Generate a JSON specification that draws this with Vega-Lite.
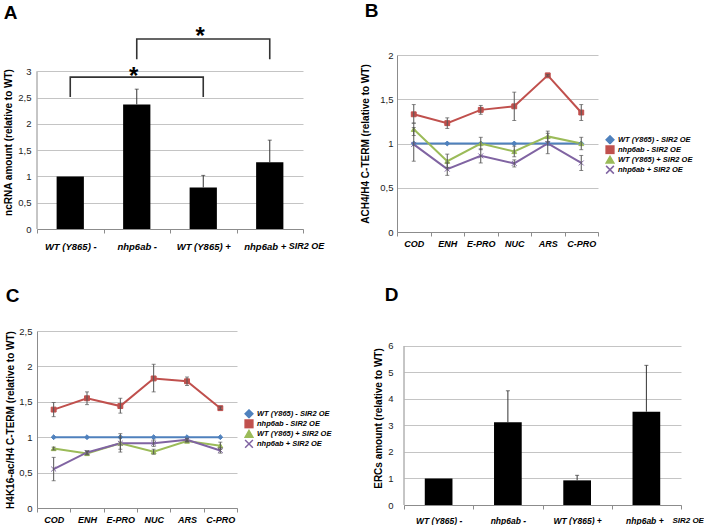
{
  "$schema": "https://vega.github.io/schema/vega-lite/v6.json",
  "background": "white",
  "padding": {"left": 3, "top": 2, "right": 0, "bottom": 0},
  "config": {
    "font": "Liberation Sans",
    "view": {"stroke": null},
    "title": {"font": "Liberation Sans", "fontSize": 19, "fontWeight": "bold", "anchor": "start", "frame": "bounds", "color": "black"},
    "axisX": {"domainColor": "#8c8c8c", "tickColor": "#8c8c8c", "tickSize": 4, "labelAngle": 0, "labelFont": "Liberation Sans", "labelFontWeight": "bold", "labelFontStyle": "italic", "labelColor": "black", "labelFontSize": 10, "labelPadding": 5, "grid": false, "labelOverlap": false},
    "axisY": {"domainColor": "#8c8c8c", "ticks": false, "gridColor": "#c4c4c4", "labelFont": "Liberation Sans", "labelFontSize": 9.5, "labelColor": "#222", "titleFont": "Liberation Sans", "titleFontWeight": "bold", "titleFontSize": 10, "titleColor": "black", "labelPadding": 6, "titlePadding": 4, "labelOverlap": false}
  },
  "datasets": {
    "a": [
      {"g": "WT (Y865) -", "v": 1.0, "hi": 1.0},
      {"g": "nhp6ab -", "v": 2.37, "hi": 2.66},
      {"g": "WT (Y865) +", "v": 0.79, "hi": 1.02},
      {"g": "nhp6ab +", "v": 1.27, "hi": 1.69}
    ],
    "aaxis": [{"g": "WT (Y865) -", "y0": 0, "y1": 3}],
    "abr": [
      {"b": 1, "g": "WT (Y865) -", "y": 2.51, "o": 1},
      {"b": 1, "g": "WT (Y865) -", "y": 2.89, "o": 2},
      {"b": 1, "g": "WT (Y865) +", "y": 2.89, "o": 3},
      {"b": 1, "g": "WT (Y865) +", "y": 2.51, "o": 4},
      {"b": 2, "g": "nhp6ab -", "y": 3.23, "o": 1},
      {"b": 2, "g": "nhp6ab -", "y": 3.615, "o": 2},
      {"b": 2, "g": "nhp6ab +", "y": 3.615, "o": 3},
      {"b": 2, "g": "nhp6ab +", "y": 3.23, "o": 4}
    ],
    "astar": [
      {"g": "nhp6ab -", "y": 2.89, "t": "*"},
      {"g": "WT (Y865) +", "y": 3.65, "t": "*"}
    ],
    "anote": [{"g": "nhp6ab +", "y": 0, "t": "SIR2 OE"}],
    "b": [
      {"s": "WT (Y865) - SIR2 OE", "r": "COD", "v": 1, "lo": 1, "hi": 1},
      {"s": "WT (Y865) - SIR2 OE", "r": "ENH", "v": 1, "lo": 1, "hi": 1},
      {"s": "WT (Y865) - SIR2 OE", "r": "E-PRO", "v": 1, "lo": 1, "hi": 1},
      {"s": "WT (Y865) - SIR2 OE", "r": "NUC", "v": 1, "lo": 1, "hi": 1},
      {"s": "WT (Y865) - SIR2 OE", "r": "ARS", "v": 1, "lo": 1, "hi": 1},
      {"s": "WT (Y865) - SIR2 OE", "r": "C-PRO", "v": 1, "lo": 1, "hi": 1},
      {"s": "nhp6ab - SIR2 OE", "r": "COD", "v": 1.33, "lo": 1.23, "hi": 1.44},
      {"s": "nhp6ab - SIR2 OE", "r": "ENH", "v": 1.23, "lo": 1.17, "hi": 1.29},
      {"s": "nhp6ab - SIR2 OE", "r": "E-PRO", "v": 1.38, "lo": 1.33, "hi": 1.43},
      {"s": "nhp6ab - SIR2 OE", "r": "NUC", "v": 1.42, "lo": 1.26, "hi": 1.58},
      {"s": "nhp6ab - SIR2 OE", "r": "ARS", "v": 1.77, "lo": 1.76, "hi": 1.78},
      {"s": "nhp6ab - SIR2 OE", "r": "C-PRO", "v": 1.35, "lo": 1.26, "hi": 1.44},
      {"s": "WT (Y865) + SIR2 OE", "r": "COD", "v": 1.16, "lo": 1.09, "hi": 1.23},
      {"s": "WT (Y865) + SIR2 OE", "r": "ENH", "v": 0.8, "lo": 0.73, "hi": 0.88},
      {"s": "WT (Y865) + SIR2 OE", "r": "E-PRO", "v": 1.0, "lo": 0.93, "hi": 1.07},
      {"s": "WT (Y865) + SIR2 OE", "r": "NUC", "v": 0.91, "lo": 0.85, "hi": 0.97},
      {"s": "WT (Y865) + SIR2 OE", "r": "ARS", "v": 1.08, "lo": 1.02, "hi": 1.14},
      {"s": "WT (Y865) + SIR2 OE", "r": "C-PRO", "v": 1.0, "lo": 0.93, "hi": 1.07},
      {"s": "nhp6ab + SIR2 OE", "r": "COD", "v": 0.99, "lo": 0.8, "hi": 1.18},
      {"s": "nhp6ab + SIR2 OE", "r": "ENH", "v": 0.71, "lo": 0.64, "hi": 0.78},
      {"s": "nhp6ab + SIR2 OE", "r": "E-PRO", "v": 0.86, "lo": 0.78, "hi": 0.94},
      {"s": "nhp6ab + SIR2 OE", "r": "NUC", "v": 0.775, "lo": 0.735, "hi": 0.815},
      {"s": "nhp6ab + SIR2 OE", "r": "ARS", "v": 1.0, "lo": 0.885, "hi": 1.115},
      {"s": "nhp6ab + SIR2 OE", "r": "C-PRO", "v": 0.78, "lo": 0.695, "hi": 0.865}
    ],
    "c": [
      {"s": "WT (Y865) - SIR2 OE", "r": "COD", "v": 1, "lo": 1, "hi": 1},
      {"s": "WT (Y865) - SIR2 OE", "r": "ENH", "v": 1, "lo": 1, "hi": 1},
      {"s": "WT (Y865) - SIR2 OE", "r": "E-PRO", "v": 1, "lo": 1, "hi": 1},
      {"s": "WT (Y865) - SIR2 OE", "r": "NUC", "v": 1, "lo": 1, "hi": 1},
      {"s": "WT (Y865) - SIR2 OE", "r": "ARS", "v": 1, "lo": 1, "hi": 1},
      {"s": "WT (Y865) - SIR2 OE", "r": "C-PRO", "v": 1, "lo": 1, "hi": 1},
      {"s": "nhp6ab - SIR2 OE", "r": "COD", "v": 1.39, "lo": 1.29, "hi": 1.49},
      {"s": "nhp6ab - SIR2 OE", "r": "ENH", "v": 1.55, "lo": 1.46, "hi": 1.64},
      {"s": "nhp6ab - SIR2 OE", "r": "E-PRO", "v": 1.44, "lo": 1.34, "hi": 1.55},
      {"s": "nhp6ab - SIR2 OE", "r": "NUC", "v": 1.83, "lo": 1.64, "hi": 2.03},
      {"s": "nhp6ab - SIR2 OE", "r": "ARS", "v": 1.79, "lo": 1.73, "hi": 1.85},
      {"s": "nhp6ab - SIR2 OE", "r": "C-PRO", "v": 1.41, "lo": 1.39, "hi": 1.43},
      {"s": "WT (Y865) + SIR2 OE", "r": "COD", "v": 0.84, "lo": 0.82, "hi": 0.86},
      {"s": "WT (Y865) + SIR2 OE", "r": "ENH", "v": 0.77, "lo": 0.75, "hi": 0.8},
      {"s": "WT (Y865) + SIR2 OE", "r": "E-PRO", "v": 0.915, "lo": 0.83, "hi": 1.0},
      {"s": "WT (Y865) + SIR2 OE", "r": "NUC", "v": 0.795, "lo": 0.76, "hi": 0.83},
      {"s": "WT (Y865) + SIR2 OE", "r": "ARS", "v": 0.945, "lo": 0.93, "hi": 0.96},
      {"s": "WT (Y865) + SIR2 OE", "r": "C-PRO", "v": 0.88, "lo": 0.83, "hi": 0.93},
      {"s": "nhp6ab + SIR2 OE", "r": "COD", "v": 0.55, "lo": 0.385, "hi": 0.715},
      {"s": "nhp6ab + SIR2 OE", "r": "ENH", "v": 0.785, "lo": 0.76, "hi": 0.81},
      {"s": "nhp6ab + SIR2 OE", "r": "E-PRO", "v": 0.915, "lo": 0.79, "hi": 1.05},
      {"s": "nhp6ab + SIR2 OE", "r": "NUC", "v": 0.915, "lo": 0.87, "hi": 0.96},
      {"s": "nhp6ab + SIR2 OE", "r": "ARS", "v": 0.963, "lo": 0.94, "hi": 0.985},
      {"s": "nhp6ab + SIR2 OE", "r": "C-PRO", "v": 0.813, "lo": 0.775, "hi": 0.85}
    ],
    "d": [
      {"g": "WT (Y865) -", "v": 1.0, "hi": 1.0},
      {"g": "nhp6ab -", "v": 3.12, "hi": 4.31},
      {"g": "WT (Y865) +", "v": 0.93, "hi": 1.12},
      {"g": "nhp6ab +", "v": 3.52, "hi": 5.27}
    ],
    "daxis": [{"g": "WT (Y865) -", "y0": 0, "y1": 6}],
    "dnote": [{"g": "nhp6ab +", "y": 0, "t": "SIR2 OE"}]
  },
  "spacing": 35,
  "resolve": {"scale": {"color": "independent", "stroke": "independent", "shape": "independent"}, "legend": {"color": "independent"}},
  "vconcat": [
    {
      "spacing": 35,
      "resolve": {"scale": {"color": "independent", "stroke": "independent", "shape": "independent"}, "legend": {"color": "independent"}},
      "hconcat": [
        {
          "title": {"text": "A", "offset": 2},
          "width": 266,
          "height": 174,
          "encoding": {
            "x": {"field": "g", "type": "nominal", "sort": null, "title": null,
                  "scale": {"type": "band", "domain": ["WT (Y865) -", "nhp6ab -", "WT (Y865) +", "nhp6ab +"], "paddingInner": 0, "paddingOuter": 0},
                  "axis": {"tickBand": "extent", "labelFontSize": 9.5, "labelPadding": 8,
                    "labelOffset": {"condition": {"test": "datum.value === 'nhp6ab +'", "value": -5}, "value": 0}}}
          },
          "layer": [
            {
              "data": {"name": "a"},
              "mark": {"type": "bar", "color": "black", "width": {"band": 0.41}},
              "encoding": {"y": {"field": "v", "type": "quantitative", "title": "ncRNA amount (relative to WT)",
                "scale": {"domain": [0, 3.31], "nice": false},
                "axis": {"values": [0, 0.5, 1, 1.5, 2, 2.5, 3], "format": ".1~f", "labelExpr": "replace(datum.label, '.', ',')", "domain": false}}}
            },
            {
              "data": {"name": "aaxis"},
              "mark": {"type": "rule", "color": "#8c8c8c", "strokeWidth": 1},
              "encoding": {"x": {"field": "g", "type": "nominal", "bandPosition": 0},
                "y": {"field": "y0", "type": "quantitative", "title": "ncRNA amount (relative to WT)", "scale": {"domain": [0, 3.31], "nice": false},
                "axis": {"values": [0, 0.5, 1, 1.5, 2, 2.5, 3], "format": ".1~f", "labelExpr": "replace(datum.label, '.', ',')", "domain": false}}, "y2": {"field": "y1"}}
            },
            {
              "data": {"name": "a"},
              "transform": [{"filter": "datum.hi > datum.v"}],
              "mark": {"type": "rule", "color": "#333", "strokeWidth": 1},
              "encoding": {"y": {"field": "v", "type": "quantitative", "title": "ncRNA amount (relative to WT)", "scale": {"domain": [0, 3.31], "nice": false},
                "axis": {"values": [0, 0.5, 1, 1.5, 2, 2.5, 3], "format": ".1~f", "labelExpr": "replace(datum.label, '.', ',')", "domain": false}}, "y2": {"field": "hi"}}
            },
            {
              "data": {"name": "a"},
              "transform": [{"filter": "datum.hi > datum.v"}],
              "mark": {"type": "tick", "color": "#333", "size": 4, "thickness": 1},
              "encoding": {"y": {"field": "hi", "type": "quantitative", "title": "ncRNA amount (relative to WT)", "scale": {"domain": [0, 3.31], "nice": false},
                "axis": {"values": [0, 0.5, 1, 1.5, 2, 2.5, 3], "format": ".1~f", "labelExpr": "replace(datum.label, '.', ',')", "domain": false}}}
            },
            {
              "data": {"name": "abr"},
              "mark": {"type": "line", "color": "#333", "strokeWidth": 1.6},
              "encoding": {"y": {"field": "y", "type": "quantitative", "title": "ncRNA amount (relative to WT)", "scale": {"domain": [0, 3.31], "nice": false},
                "axis": {"values": [0, 0.5, 1, 1.5, 2, 2.5, 3], "format": ".1~f", "labelExpr": "replace(datum.label, '.', ',')", "domain": false}},
                "detail": {"field": "b"}, "order": {"field": "o"}}
            },
            {
              "data": {"name": "astar"},
              "mark": {"type": "text", "fontSize": 24, "fontWeight": "bold", "baseline": "middle", "dx": -3, "color": "black"},
              "encoding": {"y": {"field": "y", "type": "quantitative", "title": "ncRNA amount (relative to WT)", "scale": {"domain": [0, 3.31], "nice": false},
                "axis": {"values": [0, 0.5, 1, 1.5, 2, 2.5, 3], "format": ".1~f", "labelExpr": "replace(datum.label, '.', ',')", "domain": false}}, "text": {"field": "t"}}
            },
            {
              "data": {"name": "anote"},
              "mark": {"type": "text", "fontSize": 9, "fontWeight": "bold", "fontStyle": "italic", "align": "left", "baseline": "middle", "dx": 19, "dy": 17, "color": "black"},
              "encoding": {"y": {"field": "y", "type": "quantitative", "title": "ncRNA amount (relative to WT)", "scale": {"domain": [0, 3.31], "nice": false},
                "axis": {"values": [0, 0.5, 1, 1.5, 2, 2.5, 3], "format": ".1~f", "labelExpr": "replace(datum.label, '.', ',')", "domain": false}}, "text": {"field": "t"}}
            }
          ]
        },
        {
          "title": {"text": "B", "offset": 29, "dx": 4},
          "width": 201,
          "height": 177,
          "data": {"name": "b"},
          "encoding": {
            "x": {"field": "r", "type": "nominal", "sort": null, "title": null,
                  "scale": {"type": "band", "domain": ["COD", "ENH", "E-PRO", "NUC", "ARS", "C-PRO"], "paddingInner": 0, "paddingOuter": 0},
                  "axis": {"tickBand": "extent", "labelFontSize": 9, "labelPadding": 3}}
          },
          "layer": [
            {
              "mark": {"type": "line", "strokeWidth": 2},
              "encoding": {
                "y": {"field": "v", "type": "quantitative", "title": "ACH4/H4 C-TERM (relative to WT)", "scale": {"domain": [0, 2], "nice": false},
                      "axis": {"values": [0, 0.5, 1, 1.5, 2], "format": ".1~f", "labelExpr": "replace(datum.label, '.', ',')", "titlePadding": 9, "labelPadding": 4}},
                "color": {"field": "s", "type": "nominal", "sort": null,
                  "scale": {"domain": ["WT (Y865) - SIR2 OE", "nhp6ab - SIR2 OE", "WT (Y865) + SIR2 OE", "nhp6ab + SIR2 OE"], "range": ["#4F81BD", "#C0504D", "#9BBB59", "#8064A2"]},
                  "legend": {"title": null, "orient": "none", "legendX": 208, "legendY": 80, "labelFont": "Liberation Sans", "labelFontSize": 7.5, "labelFontWeight": "bold", "labelFontStyle": "italic", "labelColor": "black", "symbolSize": 60, "labelOffset": 3, "rowPadding": 0, "clipHeight": 9.5,
                    "encode": {"symbols": {"update": {
                      "shape": {"signal": "datum.value === 'WT (Y865) - SIR2 OE' ? 'M-1.4,0H1.4M0,-0.5L0.5,0L0,0.5L-0.5,0Z' : datum.value === 'nhp6ab - SIR2 OE' ? 'M-1.4,0H1.4M-0.45,-0.45H0.45V0.45H-0.45Z' : datum.value === 'WT (Y865) + SIR2 OE' ? 'M-1.4,0H1.4M0,-0.55L0.5,0.4L-0.5,0.4Z' : 'M-1.4,0H1.4M-0.45,-0.45L0.45,0.45M0.45,-0.45L-0.45,0.45'"},
                      "size": {"value": 60},
                      "fill": {"signal": "datum.value === 'WT (Y865) - SIR2 OE' ? '#4F81BD' : datum.value === 'nhp6ab - SIR2 OE' ? '#C0504D' : datum.value === 'WT (Y865) + SIR2 OE' ? '#9BBB59' : '#8064A2'"},
                      "stroke": {"signal": "datum.value === 'WT (Y865) - SIR2 OE' ? '#4F81BD' : datum.value === 'nhp6ab - SIR2 OE' ? '#C0504D' : datum.value === 'WT (Y865) + SIR2 OE' ? '#9BBB59' : '#8064A2'"},
                      "strokeWidth": {"value": 1.5},
                      "opacity": {"value": 1}
                    }}}}
                }
              }
            },
            {
              "mark": {"type": "point", "filled": true, "size": 24, "strokeWidth": 1, "opacity": 1},
              "encoding": {
                "y": {"field": "v", "type": "quantitative", "title": "ACH4/H4 C-TERM (relative to WT)", "scale": {"domain": [0, 2], "nice": false},
                      "axis": {"values": [0, 0.5, 1, 1.5, 2], "format": ".1~f", "labelExpr": "replace(datum.label, '.', ',')", "titlePadding": 9, "labelPadding": 4}},
                "color": {"field": "s", "type": "nominal", "sort": null},
                "stroke": {"field": "s", "type": "nominal", "sort": null, "legend": null,
                  "scale": {"domain": ["WT (Y865) - SIR2 OE", "nhp6ab - SIR2 OE", "WT (Y865) + SIR2 OE", "nhp6ab + SIR2 OE"], "range": ["#4F81BD", "#C0504D", "#9BBB59", "#8064A2"]}},
                "shape": {"field": "s", "type": "nominal", "sort": null, "legend": null,
                  "scale": {"domain": ["WT (Y865) - SIR2 OE", "nhp6ab - SIR2 OE", "WT (Y865) + SIR2 OE", "nhp6ab + SIR2 OE"], "range": ["diamond", "square", "triangle-up", "M-1,-1L1,1M1,-1L-1,1"]}}
              }
            },
            {
              "transform": [{"filter": "datum.hi > datum.lo"}],
              "mark": {"type": "rule", "color": "#555", "strokeWidth": 1},
              "encoding": {"y": {"field": "lo", "type": "quantitative", "title": "ACH4/H4 C-TERM (relative to WT)", "scale": {"domain": [0, 2], "nice": false},
                      "axis": {"values": [0, 0.5, 1, 1.5, 2], "format": ".1~f", "labelExpr": "replace(datum.label, '.', ',')", "titlePadding": 9, "labelPadding": 4}}, "y2": {"field": "hi"}}
            },
            {
              "transform": [{"filter": "datum.hi > datum.lo"}],
              "mark": {"type": "tick", "color": "#555", "size": 4, "thickness": 1},
              "encoding": {"y": {"field": "lo", "type": "quantitative", "title": "ACH4/H4 C-TERM (relative to WT)", "scale": {"domain": [0, 2], "nice": false},
                      "axis": {"values": [0, 0.5, 1, 1.5, 2], "format": ".1~f", "labelExpr": "replace(datum.label, '.', ',')", "titlePadding": 9, "labelPadding": 4}}}
            },
            {
              "transform": [{"filter": "datum.hi > datum.lo"}],
              "mark": {"type": "tick", "color": "#555", "size": 4, "thickness": 1},
              "encoding": {"y": {"field": "hi", "type": "quantitative", "title": "ACH4/H4 C-TERM (relative to WT)", "scale": {"domain": [0, 2], "nice": false},
                      "axis": {"values": [0, 0.5, 1, 1.5, 2], "format": ".1~f", "labelExpr": "replace(datum.label, '.', ',')", "titlePadding": 9, "labelPadding": 4}}}
            }
          ]
        }
      ]
    },
    {
      "spacing": 41,
      "resolve": {"scale": {"color": "independent", "stroke": "independent", "shape": "independent"}, "legend": {"color": "independent"}},
      "hconcat": [
        {
          "title": {"text": "C", "offset": 20},
          "width": 200,
          "height": 177,
          "data": {"name": "c"},
          "encoding": {
            "x": {"field": "r", "type": "nominal", "sort": null, "title": null,
                  "scale": {"type": "band", "domain": ["COD", "ENH", "E-PRO", "NUC", "ARS", "C-PRO"], "paddingInner": 0, "paddingOuter": 0},
                  "axis": {"tickBand": "extent", "labelFontSize": 9, "labelPadding": 3}}
          },
          "layer": [
            {
              "mark": {"type": "line", "strokeWidth": 2},
              "encoding": {
                "y": {"field": "v", "type": "quantitative", "title": "H4K16-ac/H4 C-TERM (relative to WT)", "scale": {"domain": [0, 2.5], "nice": false},
                      "axis": {"values": [0, 0.5, 1, 1.5, 2, 2.5], "format": ".1~f", "labelExpr": "replace(datum.label, '.', ',')", "titlePadding": 3, "labelPadding": 5}},
                "color": {"field": "s", "type": "nominal", "sort": null,
                  "scale": {"domain": ["WT (Y865) - SIR2 OE", "nhp6ab - SIR2 OE", "WT (Y865) + SIR2 OE", "nhp6ab + SIR2 OE"], "range": ["#4F81BD", "#C0504D", "#9BBB59", "#8064A2"]},
                  "legend": {"title": null, "orient": "none", "legendX": 207, "legendY": 78, "labelFont": "Liberation Sans", "labelFontSize": 7.5, "labelFontWeight": "bold", "labelFontStyle": "italic", "labelColor": "black", "symbolSize": 60, "labelOffset": 3, "rowPadding": 0, "clipHeight": 9.7,
                    "encode": {"symbols": {"update": {
                      "shape": {"signal": "datum.value === 'WT (Y865) - SIR2 OE' ? 'M-1.4,0H1.4M0,-0.5L0.5,0L0,0.5L-0.5,0Z' : datum.value === 'nhp6ab - SIR2 OE' ? 'M-1.4,0H1.4M-0.45,-0.45H0.45V0.45H-0.45Z' : datum.value === 'WT (Y865) + SIR2 OE' ? 'M-1.4,0H1.4M0,-0.55L0.5,0.4L-0.5,0.4Z' : 'M-1.4,0H1.4M-0.45,-0.45L0.45,0.45M0.45,-0.45L-0.45,0.45'"},
                      "size": {"value": 60},
                      "fill": {"signal": "datum.value === 'WT (Y865) - SIR2 OE' ? '#4F81BD' : datum.value === 'nhp6ab - SIR2 OE' ? '#C0504D' : datum.value === 'WT (Y865) + SIR2 OE' ? '#9BBB59' : '#8064A2'"},
                      "stroke": {"signal": "datum.value === 'WT (Y865) - SIR2 OE' ? '#4F81BD' : datum.value === 'nhp6ab - SIR2 OE' ? '#C0504D' : datum.value === 'WT (Y865) + SIR2 OE' ? '#9BBB59' : '#8064A2'"},
                      "strokeWidth": {"value": 1.5},
                      "opacity": {"value": 1}
                    }}}}
                }
              }
            },
            {
              "mark": {"type": "point", "filled": true, "size": 24, "strokeWidth": 1, "opacity": 1},
              "encoding": {
                "y": {"field": "v", "type": "quantitative", "title": "H4K16-ac/H4 C-TERM (relative to WT)", "scale": {"domain": [0, 2.5], "nice": false},
                      "axis": {"values": [0, 0.5, 1, 1.5, 2, 2.5], "format": ".1~f", "labelExpr": "replace(datum.label, '.', ',')", "titlePadding": 3, "labelPadding": 5}},
                "color": {"field": "s", "type": "nominal", "sort": null},
                "stroke": {"field": "s", "type": "nominal", "sort": null, "legend": null,
                  "scale": {"domain": ["WT (Y865) - SIR2 OE", "nhp6ab - SIR2 OE", "WT (Y865) + SIR2 OE", "nhp6ab + SIR2 OE"], "range": ["#4F81BD", "#C0504D", "#9BBB59", "#8064A2"]}},
                "shape": {"field": "s", "type": "nominal", "sort": null, "legend": null,
                  "scale": {"domain": ["WT (Y865) - SIR2 OE", "nhp6ab - SIR2 OE", "WT (Y865) + SIR2 OE", "nhp6ab + SIR2 OE"], "range": ["diamond", "square", "triangle-up", "M-1,-1L1,1M1,-1L-1,1"]}}
              }
            },
            {
              "transform": [{"filter": "datum.hi > datum.lo"}],
              "mark": {"type": "rule", "color": "#555", "strokeWidth": 1},
              "encoding": {"y": {"field": "lo", "type": "quantitative", "title": "H4K16-ac/H4 C-TERM (relative to WT)", "scale": {"domain": [0, 2.5], "nice": false},
                      "axis": {"values": [0, 0.5, 1, 1.5, 2, 2.5], "format": ".1~f", "labelExpr": "replace(datum.label, '.', ',')", "titlePadding": 3, "labelPadding": 5}}, "y2": {"field": "hi"}}
            },
            {
              "transform": [{"filter": "datum.hi > datum.lo"}],
              "mark": {"type": "tick", "color": "#555", "size": 4, "thickness": 1},
              "encoding": {"y": {"field": "lo", "type": "quantitative", "title": "H4K16-ac/H4 C-TERM (relative to WT)", "scale": {"domain": [0, 2.5], "nice": false},
                      "axis": {"values": [0, 0.5, 1, 1.5, 2, 2.5], "format": ".1~f", "labelExpr": "replace(datum.label, '.', ',')", "titlePadding": 3, "labelPadding": 5}}}
            },
            {
              "transform": [{"filter": "datum.hi > datum.lo"}],
              "mark": {"type": "tick", "color": "#555", "size": 4, "thickness": 1},
              "encoding": {"y": {"field": "hi", "type": "quantitative", "title": "H4K16-ac/H4 C-TERM (relative to WT)", "scale": {"domain": [0, 2.5], "nice": false},
                      "axis": {"values": [0, 0.5, 1, 1.5, 2, 2.5], "format": ".1~f", "labelExpr": "replace(datum.label, '.', ',')", "titlePadding": 3, "labelPadding": 5}}}
            }
          ]
        },
        {
          "title": {"text": "D", "offset": 26, "dx": 11},
          "width": 277,
          "height": 174,
          "encoding": {
            "x": {"field": "g", "type": "nominal", "sort": null, "title": null,
                  "scale": {"type": "band", "domain": ["WT (Y865) -", "nhp6ab -", "WT (Y865) +", "nhp6ab +"], "paddingInner": 0, "paddingOuter": 0},
                  "axis": {"tickBand": "extent", "labelFontSize": 8.5, "labelPadding": 7,
                    "labelOffset": {"condition": {"test": "datum.value === 'nhp6ab +'", "value": -2}, "value": 0}}}
          },
          "layer": [
            {
              "data": {"name": "d"},
              "mark": {"type": "bar", "color": "black", "width": {"band": 0.4}},
              "encoding": {"y": {"field": "v", "type": "quantitative", "title": "ERCs amount (relative to WT)",
                "scale": {"domain": [0, 6.566], "nice": false},
                "axis": {"values": [0, 1, 2, 3, 4, 5, 6], "labelPadding": 11, "titlePadding": 4, "domain": false}}}
            },
            {
              "data": {"name": "daxis"},
              "mark": {"type": "rule", "color": "#8c8c8c", "strokeWidth": 1},
              "encoding": {"x": {"field": "g", "type": "nominal", "bandPosition": 0},
                "y": {"field": "y0", "type": "quantitative", "title": "ERCs amount (relative to WT)", "scale": {"domain": [0, 6.566], "nice": false},
                "axis": {"values": [0, 1, 2, 3, 4, 5, 6], "labelPadding": 11, "titlePadding": 4, "domain": false}}, "y2": {"field": "y1"}}
            },
            {
              "data": {"name": "d"},
              "transform": [{"filter": "datum.hi > datum.v"}],
              "mark": {"type": "rule", "color": "#333", "strokeWidth": 1},
              "encoding": {"y": {"field": "v", "type": "quantitative", "title": "ERCs amount (relative to WT)", "scale": {"domain": [0, 6.566], "nice": false},
                "axis": {"values": [0, 1, 2, 3, 4, 5, 6], "labelPadding": 11, "titlePadding": 4, "domain": false}}, "y2": {"field": "hi"}}
            },
            {
              "data": {"name": "d"},
              "transform": [{"filter": "datum.hi > datum.v"}],
              "mark": {"type": "tick", "color": "#333", "size": 4, "thickness": 1},
              "encoding": {"y": {"field": "hi", "type": "quantitative", "title": "ERCs amount (relative to WT)", "scale": {"domain": [0, 6.566], "nice": false},
                "axis": {"values": [0, 1, 2, 3, 4, 5, 6], "labelPadding": 11, "titlePadding": 4, "domain": false}}}
            },
            {
              "data": {"name": "dnote"},
              "mark": {"type": "text", "fontSize": 8, "fontWeight": "bold", "fontStyle": "italic", "align": "left", "baseline": "middle", "dx": 26, "dy": 16, "color": "black"},
              "encoding": {"y": {"field": "y", "type": "quantitative", "title": "ERCs amount (relative to WT)", "scale": {"domain": [0, 6.566], "nice": false},
                "axis": {"values": [0, 1, 2, 3, 4, 5, 6], "labelPadding": 11, "titlePadding": 4, "domain": false}}, "text": {"field": "t"}}
            }
          ]
        }
      ]
    }
  ]
}
